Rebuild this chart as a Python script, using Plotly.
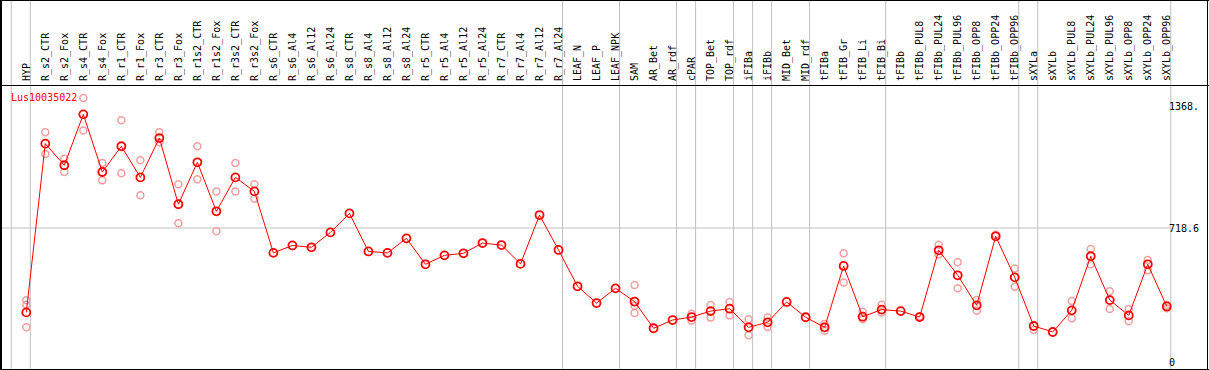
import plotly.graph_objects as go

categories = ["HYP", "R_s2_CTR", "R_s2_Fox", "R_s4_CTR", "R_s4_Fox", "R_r1_CTR", "R_r1_Fox",
              "R_r3_CTR", "R_r3_Fox", "R_r1s2_CTR", "R_r1s2_Fox", "R_r3s2_CTR", "R_r3s2_Fox",
              "R_s6_CTR", "R_s6_Al4", "R_s6_Al12", "R_s6_Al24", "R_s8_CTR", "R_s8_Al4",
              "R_s8_Al12", "R_s8_Al24", "R_r5_CTR", "R_r5_Al4", "R_r5_Al12", "R_r5_Al24",
              "R_r7_CTR", "R_r7_Al4", "R_r7_Al12", "R_r7_Al24", "LEAF_N", "LEAF_P", "LEAF_NPK",
              "SAM", "AR_Bet", "AR_rdf", "cPAR", "TOP_Bet", "TOP_rdf", "iFIBa", "iFIBb",
              "MID_Bet", "MID_rdf", "tFIBa", "tFIB_Gr", "tFIB_Li", "tFIB_Bi", "tFIBb",
              "tFIBb_PUL8", "tFIBb_PUL24", "tFIBb_PUL96", "tFIBb_OPP8", "tFIBb_OPP24",
              "tFIBb_OPP96", "sXYLa", "sXYLb", "sXYLb_PUL8", "sXYLb_PUL24", "sXYLb_PUL96",
              "sXYLb_OPP8", "sXYLb_OPP24", "sXYLb_OPP96"]

mean_values = [266, 1171, 1055, 1328, 1019, 1157, 990, 1201, 846, 1071, 808, 990, 915,
               585, 625, 615, 695, 797, 593, 585, 663, 524, 572, 583, 638, 627, 526, 788,
               601, 406, 316, 395, 324, 181, 225, 241, 273, 286, 186, 213, 322, 240, 186,
               515, 243, 281, 273, 241, 599, 465, 304, 674, 454, 193, 161, 277, 567, 332,
               250, 524, 298]

replicates = [
    [331, 307, 186], [1232, 1115], [1090, 1019], [1416, 1242], [1067, 974], [1296, 1012],
    [1082, 894], [1232, 1178], [953, 744], [1157, 980], [915, 701], [1067, 915], [953, 876],
    [], [], [], [], [], [], [], [], [], [], [], [], [], [], [], [], [], [], [],
    [413, 302, 263], [], [], [259, 221], [306, 238], [322, 250], [229, 143], [238, 188],
    [], [], [204, 168], [583, 427], [270, 229], [307, 266], [], [245], [629, 577],
    [535, 395], [332, 275], [682], [502, 404], [172], [], [327, 234], [606, 524],
    [379, 284], [283, 218], [547, 492], [288, 306],
]

group_boundaries = [-1, 0, 28, 31, 34, 35, 37, 38, 39, 41, 45, 52, 53, 60]

y_tickvals = [0, 718.6, 1368]
y_ticktext = ["0", "718.6", "1368."]
title_text = "Lus10035022"

W, H = 1209, 370
L, R, T, B = 1, 1172, 85, 369
FONT = "DejaVu Sans Mono"


def px_x(p):
    return (p - L) / (R - L)


def px_y(p):
    return (B - p) / (B - T)


rep_x, rep_y = [], []
for cat, reps in zip(categories, replicates):
    for v in reps:
        rep_x.append(cat)
        rep_y.append(v)

fig = go.Figure()
fig.add_trace(go.Scatter(
    x=rep_x, y=rep_y, mode="markers",
    marker=dict(symbol="circle-open", size=7, color="#f0a0a0", line=dict(width=1.5, color="#f0a0a0")),
    hoverinfo="skip", showlegend=False, cliponaxis=False))
fig.add_trace(go.Scatter(
    x=categories, y=mean_values, mode="lines+markers",
    line=dict(color="#ff0000", width=1),
    marker=dict(symbol="circle-open", size=8, color="#ff0000", line=dict(width=1.8, color="#ff0000")),
    showlegend=False, cliponaxis=False))

shapes = []
for g in group_boundaries:
    shapes.append(dict(type="line", xref="x", yref="paper", x0=g + 0.21, x1=g + 0.21,
                       y0=px_y(369), y1=px_y(0), line=dict(color="#c0c0c0", width=1), layer="below"))
shapes.append(dict(type="line", xref="paper", yref="y", x0=px_x(1), x1=px_x(1171),
                   y0=718.6, y1=718.6, line=dict(color="#c0c0c0", width=1), layer="below"))
black = dict(color="black", width=1)
shapes += [
    dict(type="line", xref="paper", yref="paper", x0=px_x(1), x1=px_x(1), y0=px_y(0), y1=px_y(370),
         line=dict(color="black", width=2)),
    dict(type="line", xref="paper", yref="paper", x0=px_x(1207.5), x1=px_x(1207.5), y0=px_y(0), y1=px_y(370), line=black),
    dict(type="line", xref="paper", yref="paper", x0=px_x(0), x1=px_x(1209), y0=px_y(0.5), y1=px_y(0.5), line=black),
    dict(type="line", xref="paper", yref="paper", x0=px_x(0), x1=px_x(1209), y0=px_y(85.5), y1=px_y(85.5), line=black),
    dict(type="line", xref="paper", yref="paper", x0=px_x(0), x1=px_x(1209), y0=px_y(369.5), y1=px_y(369.5), line=black),
]

x0_idx = (L - 26.3) / 19.008
x1_idx = (R - 26.3) / 19.008
y_per_px = 718.6 / (362 - 228)
y_lo = -(B - 362) * y_per_px
y_hi = (362 - T) * y_per_px

fig.update_layout(
    width=W, height=H, margin=dict(l=L, r=W - R, t=T, b=H - B, autoexpand=False),
    paper_bgcolor="white", plot_bgcolor="white",
    font=dict(family=FONT, size=10, color="black"),
    shapes=shapes,
    xaxis=dict(type="category", categoryorder="array", categoryarray=categories,
               side="top", range=[x0_idx, x1_idx], tickmode="linear", dtick=1, tick0=0,
               tickangle=-90, ticks="", showgrid=False, zeroline=False, showline=False,
               automargin=False,
               tickfont=dict(family=FONT, size=10, color="black"), ticklabelstandoff=3),
    yaxis=dict(side="right", range=[y_lo, y_hi], tickmode="array", tickvals=y_tickvals, ticktext=y_ticktext,
               ticks="", showgrid=False, zeroline=False, showline=False, automargin=False,
               tickfont=dict(family=FONT, size=10, color="black"), ticklabelstandoff=-4),
    annotations=[dict(text=title_text, xref="paper", yref="paper", x=px_x(9), y=px_y(97),
                      xanchor="left", yanchor="middle", showarrow=False,
                      font=dict(family=FONT, size=10, color="#ff0000"))],
)

fig.write_html("out.html", config={"displayModeBar": False},
               post_script="document.body.style.margin='0';document.body.style.overflow='hidden';")
